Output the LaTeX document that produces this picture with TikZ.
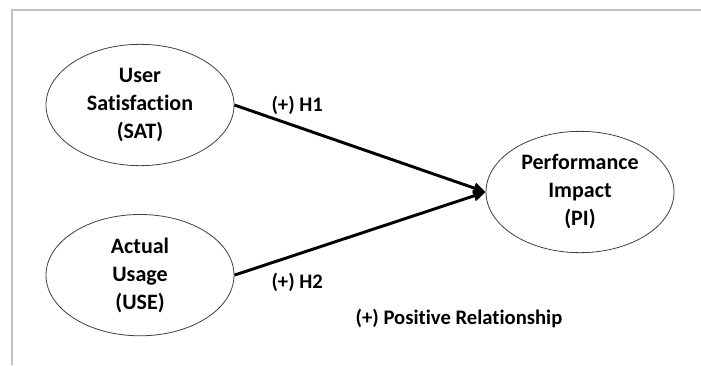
\documentclass[tikz,border=0pt]{standalone}
\usepackage{fontspec}
\setmainfont{Carlito}[Ligatures=NoCommon]
\usetikzlibrary{positioning,shapes.geometric,arrows.meta}
\definecolor{framegray}{RGB}{192,192,192}

\begin{document}
\begin{tikzpicture}[
    x=0.75pt, y=-0.75pt,
    node distance=36pt and 14mm,
    construct/.style={ellipse, draw=black!75, line width=0.6pt, fill=white,
                      minimum width=141pt, minimum height=91pt, inner sep=0pt,
                      align=center, font=\fontsize{16.5}{21}\selectfont\bfseries},
    hyp/.style={-{Triangle[length=3.2mm, width=2.8mm]}, line width=2.2pt, draw=black},
    lbl/.style={font=\fontsize{15.5}{18}\selectfont\bfseries, inner sep=2pt}]
  \useasboundingbox (0,0) rectangle (701,365);
  \draw[framegray, line width=1.6pt] (701,10) -- (12,10) -- (12,365);
  \node[construct] (sat) at (140,105) {User\\Satisfaction\\(SAT)};
  \node[construct, below=of sat] (use) {Actual\\Usage\\(USE)};
  \node[construct] (pi) at (580,192) {Performance\\Impact\\(PI)};
  % hypotheses
  \draw[hyp] (sat.east) -- node[lbl, pos=0.25, above=6pt] (h1) {(+) H1} (pi.west);
  \draw[hyp] (use.east) -- node[lbl, pos=0.25, below=11pt] (h2) {(+) H2} (pi.west);
  \node[lbl] (legend) at (459,318) {(+) Positive Relationship};
\end{tikzpicture}
\end{document}
